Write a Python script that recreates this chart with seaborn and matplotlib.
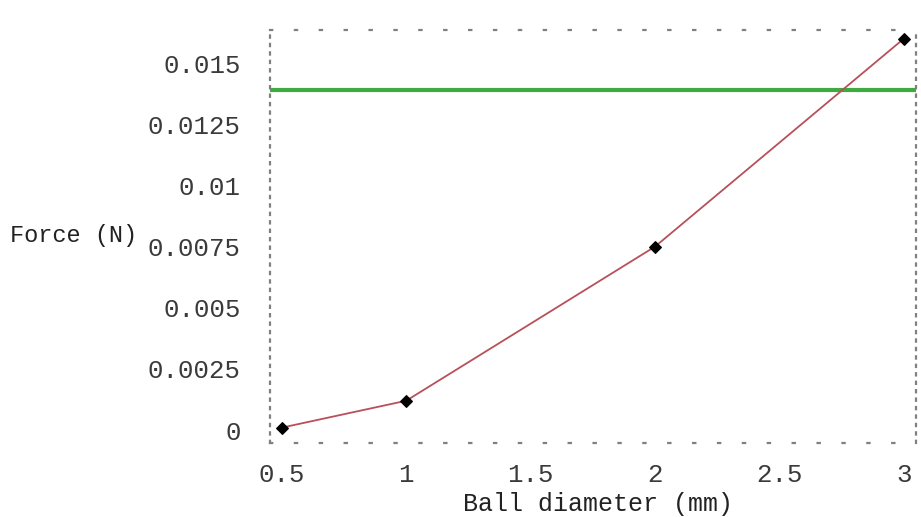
import matplotlib
matplotlib.use("Agg")
import matplotlib.pyplot as plt
import seaborn as sns
import pandas as pd

# Measured contact force against ball diameter
diameter_mm = [0.5, 1.0, 2.0, 3.0]
force_n = [0.0001, 0.0012, 0.0075, 0.0160]
threshold_n = 0.0139

x_ticks = [0.5, 1, 1.5, 2, 2.5, 3]
x_tick_labels = ["0.5", "1", "1.5", "2", "2.5", "3"]
y_ticks = [0, 0.0025, 0.005, 0.0075, 0.01, 0.0125, 0.015]
y_tick_labels = ["0", "0.0025", "0.005", "0.0075", "0.01", "0.0125", "0.015"]

sns.set_style("white")
plt.rcParams["font.family"] = ["Liberation Mono", "DejaVu Sans Mono"]

df = pd.DataFrame({"diameter": diameter_mm, "force": force_n})

fig = plt.figure(figsize=(9.21, 5.17), dpi=100)
ax = fig.add_axes([0.293, 0.143, 0.702, 0.799])

ax.axhline(threshold_n, color="#3faa3f", lw=3, zorder=2)
sns.lineplot(data=df, x="diameter", y="force", ax=ax, color="#b8505a",
             lw=1.3, marker="D", markersize=6, markerfacecolor="black",
             markeredgecolor="black", zorder=3)

ax.set_xlim(0.452, 3.05)
ax.set_ylim(-0.00053, 0.01635)
ax.set_xticks(x_ticks)
ax.set_xticklabels(x_tick_labels)
ax.set_yticks(y_ticks)
ax.set_yticklabels(y_tick_labels)
ax.tick_params(axis="both", length=0, labelsize=18.5, colors="#3a3a3a")
ax.tick_params(axis="x", pad=14)
ax.tick_params(axis="y", pad=21)

for side in ["left", "right"]:
    ax.spines[side].set_linestyle((0, (1, 2.8)))
for side in ["top", "bottom"]:
    ax.spines[side].set_linestyle((0, (1, 10.2)))
for sp in ax.spines.values():
    sp.set_visible(True)
    sp.set_color("#808080")
    sp.set_linewidth(1.6)

ax.set_xlabel("Ball diameter (mm)", fontsize=18, color="#222222")
ax.xaxis.set_label_coords(0.508, -0.118)
ax.set_ylabel("")
fig.text(0.011, 0.545, "Force (N)", fontsize=17, color="#222222",
         ha="left", va="center")

fig.savefig("out.png", dpi=100)
